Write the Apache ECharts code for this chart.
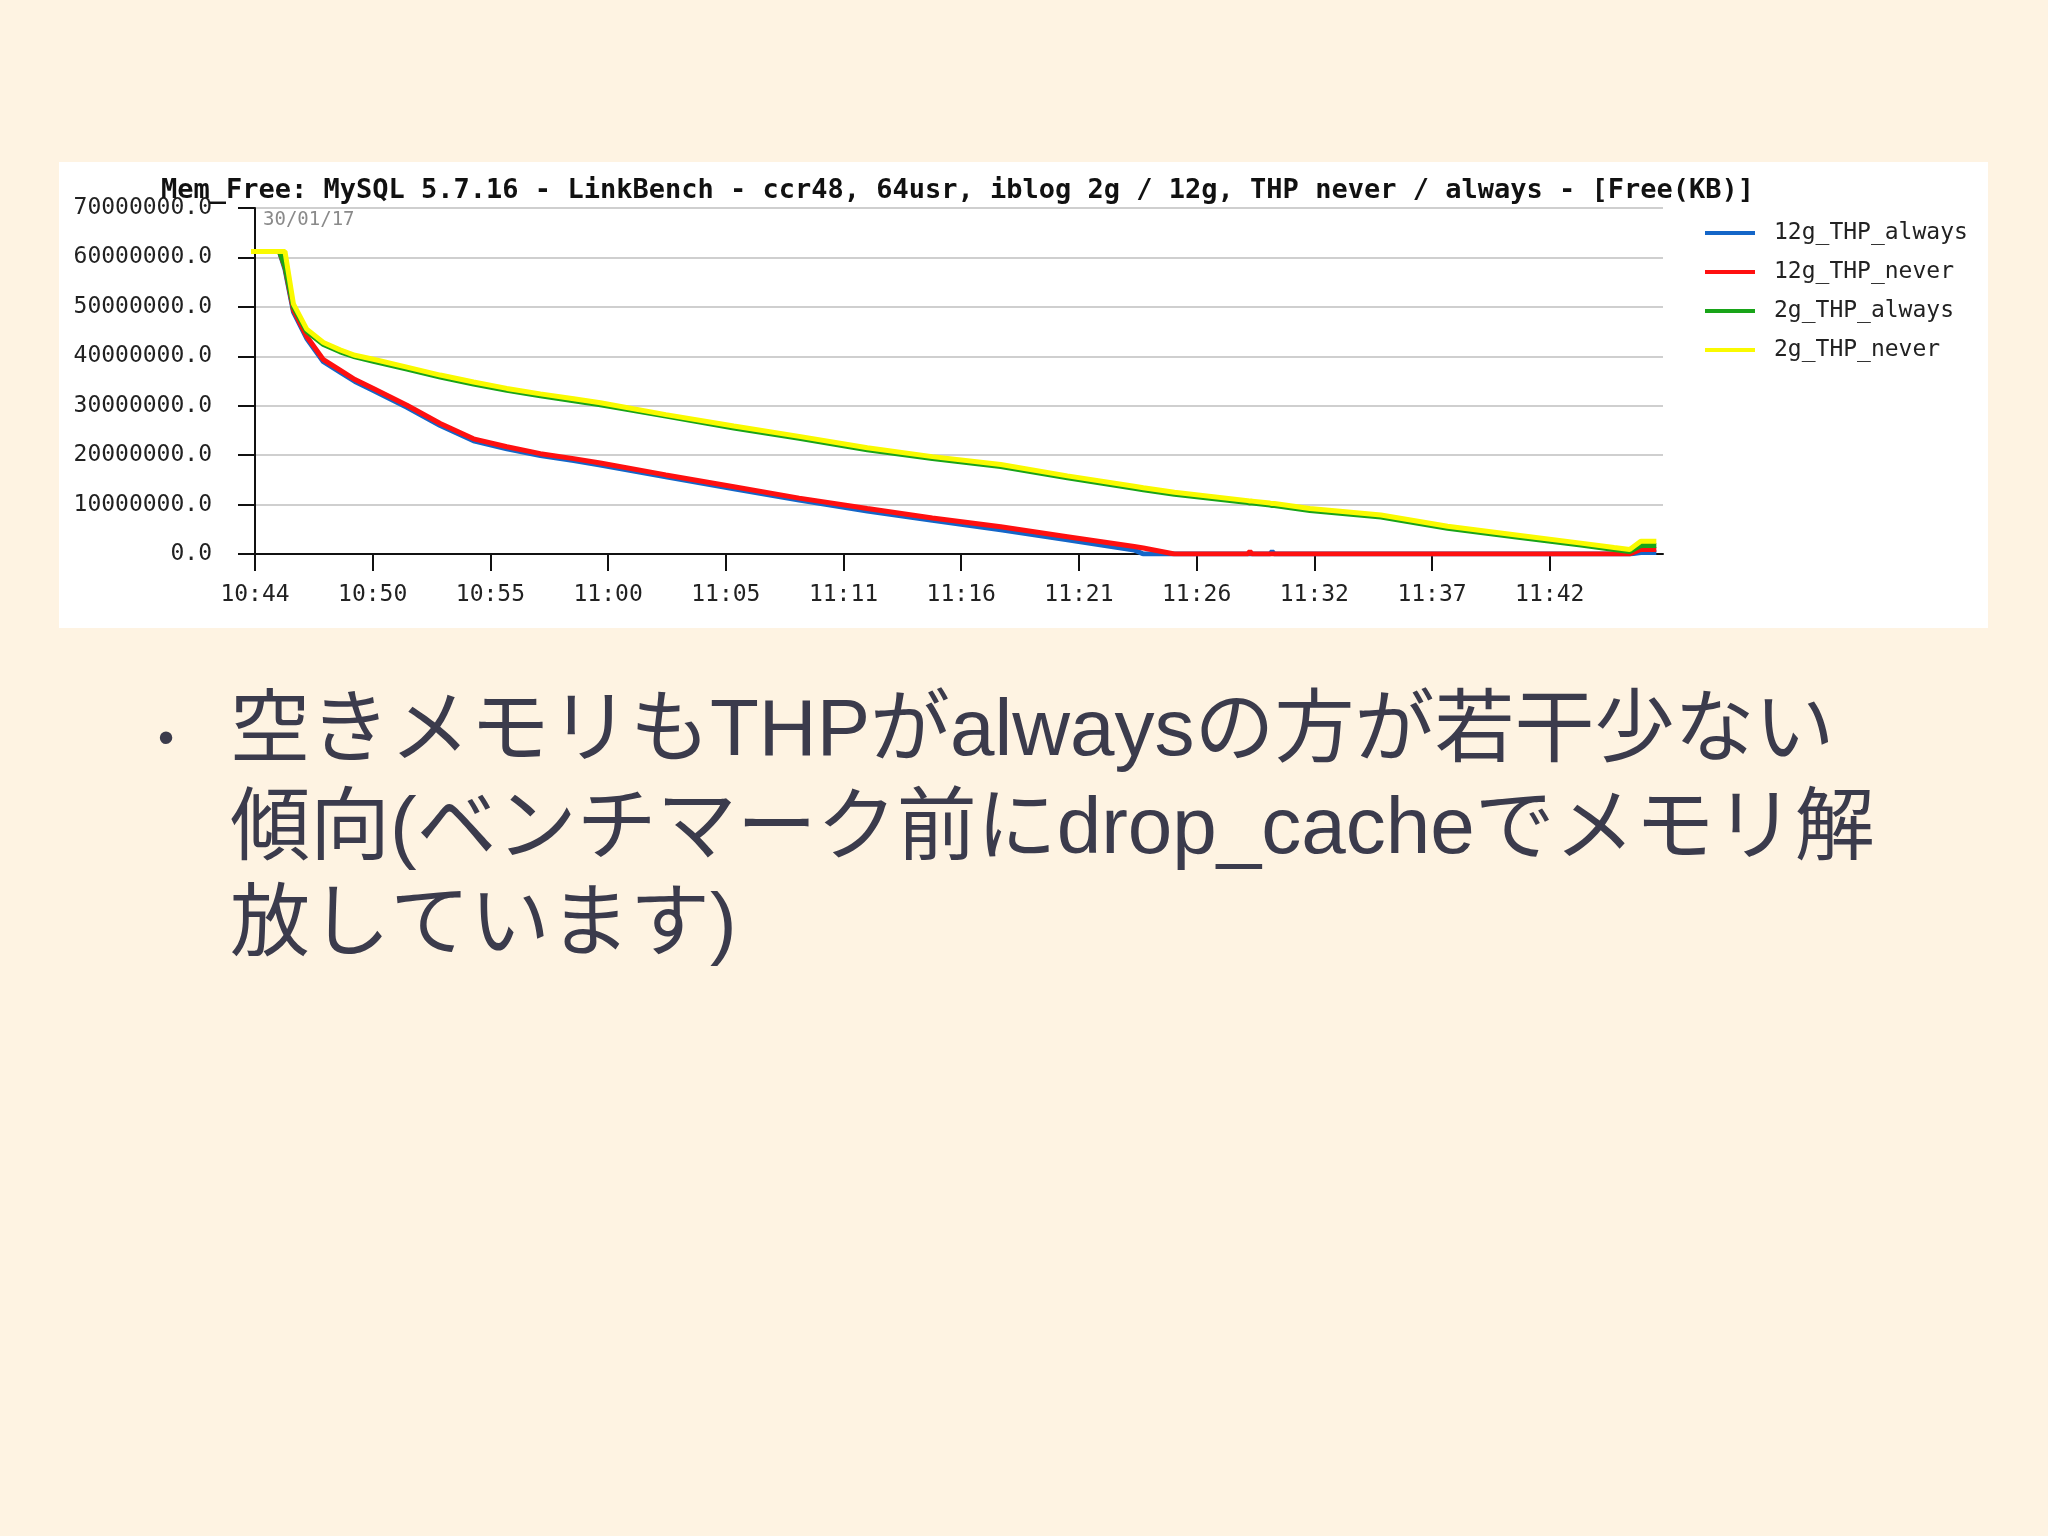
<!DOCTYPE html>
<html>
<head>
<meta charset="utf-8">
<title>Mem_Free</title>
<script src="https://cdn.jsdelivr.net/npm/echarts@6/dist/echarts.min.js"></script>
<style>
  html, body { margin: 0; padding: 0; background: #fef3e2; }
  #chart { width: 2048px; height: 1536px; }
</style>
</head>
<body>
<div id="chart"></div>
<script>
// 横軸: 10:44 からの経過分
const timeMinutes = [
  -0.18, 1.1, 1.35, 1.73, 2.33, 3.08, 3.83, 4.5, 5.33, 6.84,
  8.34, 9.84, 11.34, 12.85, 14.35, 15.55, 18.5, 21.56, 24.5, 27.57,
  30.5, 33.58, 36.58, 39.59, 40.0, 41.4, 44.7, 44.8, 44.9, 45.7,
  45.8, 45.9, 47.5, 50.7, 53.7, 56.7, 59.7, 61.2, 61.9, 62.4, 63.1
];

// 空きメモリ (百万KB単位)
const free12gAlways = [
  61.2, 61.2, 57.6, 49.0, 43.6, 38.9, 36.8, 34.9, 33.1, 29.7,
  26.0, 22.9, 21.3, 19.9, 18.9, 18.0, 15.6, 13.2, 10.9, 8.7,
  6.8, 4.9, 2.9, 0.8, 0.0, 0.0, 0.0, 0.0, 0.0, 0.0,
  0.5, 0.0, 0.0, 0.0, 0.0, 0.0, 0.0, 0.0, 0.0, 0.3, 0.3
];
const free12gNever = [
  61.2, 61.2, 58.0, 49.4, 44.0, 39.3, 37.2, 35.3, 33.5, 30.1,
  26.4, 23.3, 21.7, 20.3, 19.3, 18.4, 16.0, 13.6, 11.3, 9.2,
  7.3, 5.5, 3.5, 1.5, 1.2, 0.0, 0.0, 0.5, 0.0, 0.0,
  0.0, 0.0, 0.0, 0.0, 0.0, 0.0, 0.0, 0.0, 0.0, 0.9, 0.9
];
const free2gAlways = [
  61.2, 61.2, 58.2, 50.0, 45.0, 42.4, 40.9, 39.9, 39.0, 37.4,
  35.8, 34.4, 33.1, 32.0, 31.0, 30.2, 27.9, 25.5, 23.4, 21.1,
  19.3, 17.7, 15.4, 13.3, 13.0, 12.1, 10.4, 10.3, 10.3, 9.9,
  9.8, 9.8, 8.8, 7.5, 5.2, 3.5, 1.8, 0.9, 0.5, 1.7, 1.7
];
const free2gNever = [
  61.2, 61.2, 61.2, 50.6, 45.5, 42.8, 41.3, 40.2, 39.4, 37.8,
  36.2, 34.8, 33.5, 32.4, 31.4, 30.6, 28.2, 25.9, 23.8, 21.5,
  19.7, 18.1, 15.8, 13.7, 13.4, 12.5, 10.8, 10.7, 10.7, 10.3,
  10.2, 10.2, 9.2, 7.9, 5.6, 3.9, 2.2, 1.3, 0.9, 2.6, 2.6
];

const seriesNames = ['12g_THP_always', '12g_THP_never', '2g_THP_always', '2g_THP_never'];
const seriesColors = ['#1466c8', '#ff1010', '#18a418', '#fafa00'];
const seriesValues = [free12gAlways, free12gNever, free2gAlways, free2gNever];

const tickLabels = ['10:44', '10:50', '10:55', '11:00', '11:05', '11:11', '11:16', '11:21', '11:26', '11:32', '11:37', '11:42'];
const tickStep = 5.3;
const tickPos = tickLabels.map((_, i) => +(i * tickStep).toFixed(2));

const mono = '"DejaVu Sans Mono", "Liberation Mono", monospace';
const jp = '"Liberation Sans", "Noto Sans CJK JP", sans-serif';
const bodyColor = '#3b3b4c';

const chart = echarts.init(document.getElementById('chart'));

chart.setOption({
  backgroundColor: '#fef3e2',
  animation: false,
  title: {
    text: 'Mem_Free: MySQL 5.7.16 - LinkBench - ccr48, 64usr, iblog 2g / 12g, THP never / always - [Free(KB)]',
    left: 161,
    top: 177,
    padding: 0,
    textStyle: { fontFamily: mono, fontWeight: 'bold', fontSize: 27, color: '#111' }
  },
  legend: {
    orient: 'vertical',
    left: 1705,
    top: 221,
    padding: 0,
    icon: 'rect',
    itemWidth: 50,
    itemHeight: 4,
    itemGap: 15,
    data: seriesNames,
    textStyle: { fontFamily: mono, fontSize: 23, color: '#222', lineHeight: 24, padding: [0, 0, 0, 14] }
  },
  grid: { left: 251, right: 385, top: 208, height: 346, containLabel: false },
  xAxis: {
    type: 'value',
    min: -0.18,
    max: 63.4,
    axisLine: { lineStyle: { color: '#111', width: 2 } },
    axisTick: { show: true, length: 17, customValues: tickPos, lineStyle: { color: '#111', width: 2 } },
    axisLabel: {
      customValues: tickPos,
      margin: 30,
      fontFamily: mono,
      fontSize: 23,
      color: '#222',
      formatter: v => tickLabels[Math.round(v / tickStep)]
    },
    splitLine: { show: false }
  },
  yAxis: {
    type: 'value',
    min: 0,
    max: 70000000,
    interval: 10000000,
    axisLine: { show: true, lineStyle: { color: '#111', width: 2 } },
    axisTick: { show: true, length: 17, lineStyle: { color: '#111', width: 2 } },
    axisLabel: {
      margin: 39,
      fontFamily: mono,
      fontSize: 23,
      color: '#222',
      formatter: v => v.toFixed(1)
    },
    splitLine: { lineStyle: { color: '#cfcfcf', width: 2 } }
  },
  series: seriesNames.map((name, i) => ({
    name: name,
    type: 'line',
    showSymbol: false,
    color: seriesColors[i],
    lineStyle: { width: 5, color: seriesColors[i] },
    data: timeMinutes.map((t, j) => [t, seriesValues[i][j] * 1000000])
  })),
  graphic: [
    {
      type: 'rect',
      z: -10,
      shape: { x: 59, y: 162, width: 1929, height: 466 },
      style: { fill: '#ffffff' }
    },
    {
      type: 'text',
      x: 263,
      y: 220,
      style: { text: '30/01/17', fontFamily: mono, fontSize: 19, fill: '#8a8a8a', verticalAlign: 'middle' }
    },
    {
      type: 'text',
      x: 158,
      y: 740,
      style: { text: '•', fontFamily: jp, fontSize: 46, fill: bodyColor, verticalAlign: 'middle' }
    },
    {
      type: 'text',
      x: 230,
      y: 733,
      style: { text: '空きメモリもTHPがalwaysの方が若干少ない', fontFamily: jp, fontSize: 80, fill: bodyColor, verticalAlign: 'middle' }
    },
    {
      type: 'text',
      x: 230,
      y: 831,
      style: { text: '傾向(ベンチマーク前にdrop_cacheでメモリ解', fontFamily: jp, fontSize: 80, fill: bodyColor, verticalAlign: 'middle' }
    },
    {
      type: 'text',
      x: 230,
      y: 927,
      style: { text: '放しています)', fontFamily: jp, fontSize: 80, fill: bodyColor, verticalAlign: 'middle' }
    }
  ]
});
</script>
</body>
</html>
